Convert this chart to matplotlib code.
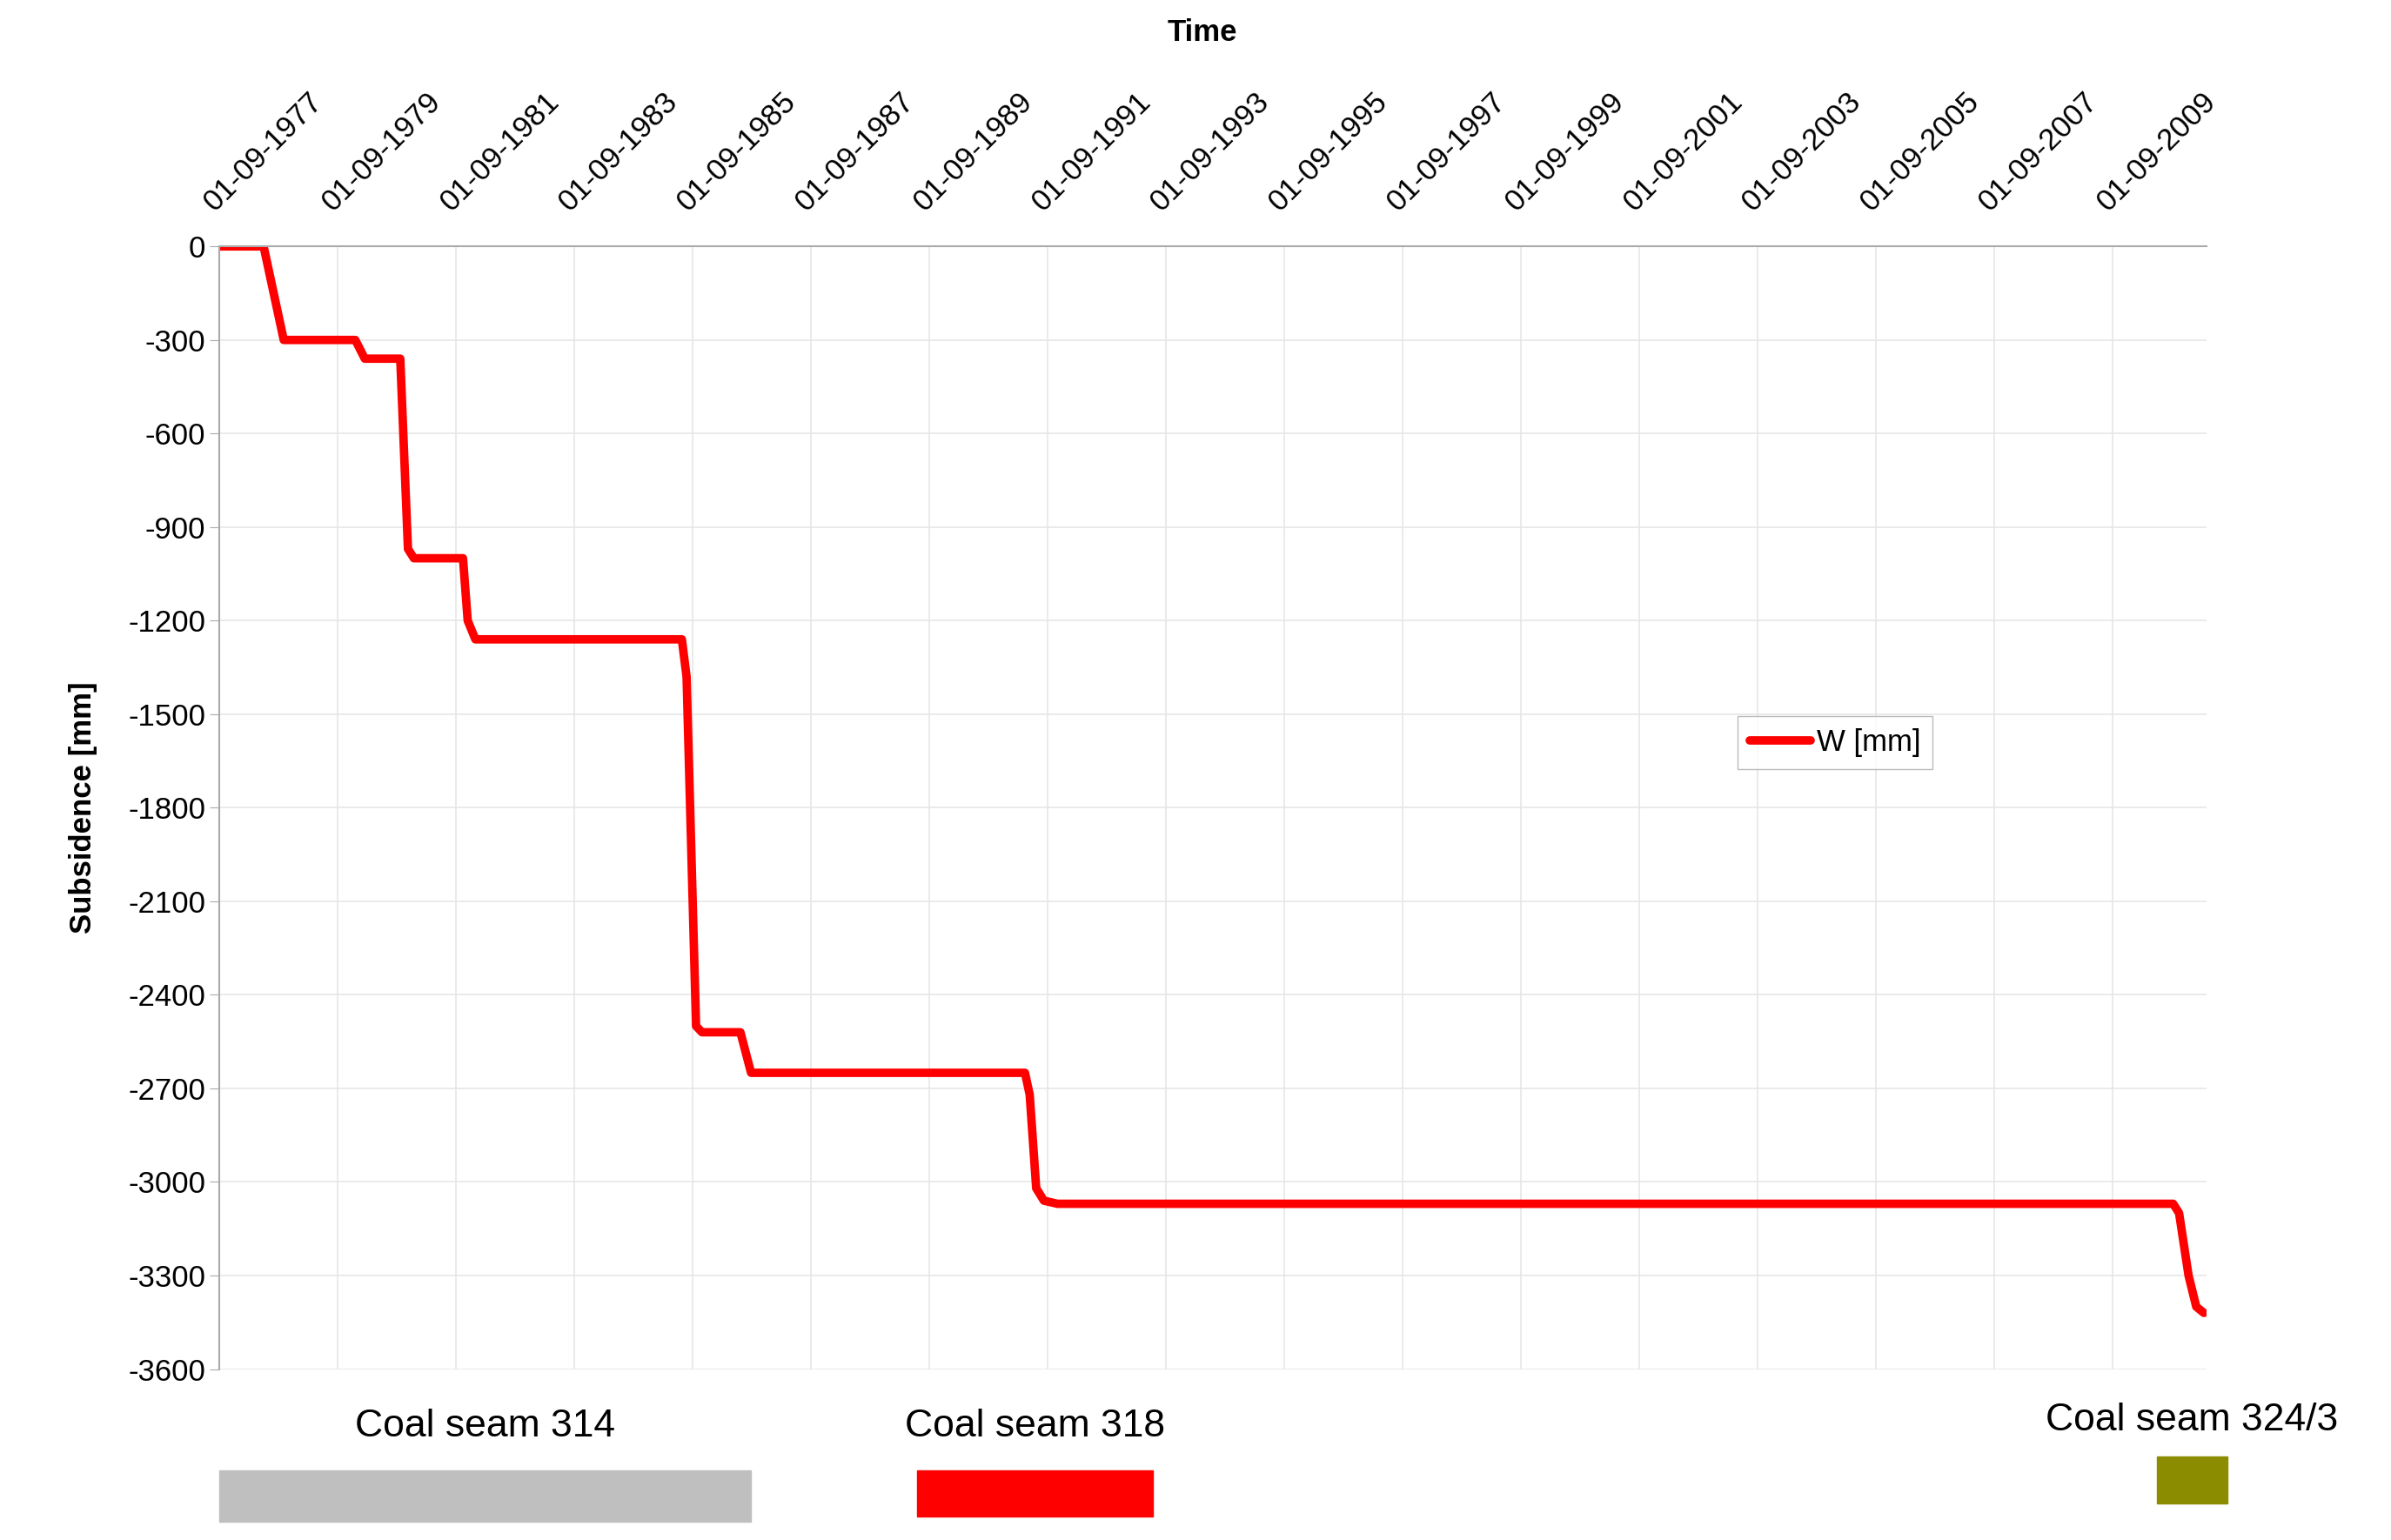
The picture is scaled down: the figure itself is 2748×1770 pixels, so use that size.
import matplotlib
matplotlib.use("Agg")
import matplotlib.pyplot as plt
from matplotlib.transforms import blended_transform_factory
from matplotlib.patches import Rectangle

plt.rcParams['font.family'] = ['Liberation Sans', 'DejaVu Sans']

# decimal years and subsidence W [mm]
years = [1977.67, 1978.42, 1978.76, 1979.97, 1980.13, 1980.73, 1980.86, 1980.96,
         1981.79, 1981.87, 1982.00, 1985.49, 1985.57, 1985.73, 1985.83, 1986.48,
         1986.66, 1991.29, 1991.37, 1991.48, 1991.61, 1991.84, 2010.70, 2010.80,
         2010.96, 2011.09, 2011.22]
subsidence = [0, 0, -300, -300, -360, -360, -970, -1000,
              -1000, -1200, -1260, -1260, -1380, -2500, -2520, -2520,
              -2650, -2650, -2720, -3020, -3060, -3070, -3070, -3100,
              -3300, -3400, -3420]
tick_years = list(range(1977, 2010, 2))
tick_labels = [f"01-09-{y}" for y in tick_years]
yticks = list(range(0, -3601, -300))

seams = ["Coal seam 314", "Coal seam 318", "Coal seam 324/3"]
seam_start = [1977.67, 1989.46, 2010.42]
seam_end = [1986.66, 1993.45, 2011.61]
seam_colors = ["#bfbfbf", "#ff0000", "#8c8c00"]

fig = plt.figure(figsize=(27.48, 17.70), dpi=100)
ax = fig.add_axes([0.0917, 0.111, 0.8313, 0.729])
ax.plot(years, subsidence, color="red", lw=7, label="W [mm]", solid_capstyle="round")
ax.set_xlim(1977.67, 2011.27)
ax.set_ylim(-3600, 0)
ax.set_yticks(yticks)
ax.set_yticklabels([str(v) for v in yticks], fontsize=25)
ax.set_xticks([y + 0.67 for y in tick_years])
ax.xaxis.tick_top()
ax.set_xticklabels(tick_labels, rotation=45, ha="left", va="bottom", fontsize=25,
                   rotation_mode="anchor")
ax.tick_params(axis="x", length=0, pad=25)
ax.tick_params(axis="y", length=8, color="#aaaaaa")
ax.grid(True, color="#e6e6e6", lw=1.2)
for s in ["right", "bottom"]:
    ax.spines[s].set_visible(False)
for s in ["left", "top"]:
    ax.spines[s].set_color("#aaaaaa")
    ax.spines[s].set_linewidth(1.5)
ax.set_ylabel("Subsidence [mm]", fontsize=25, fontweight="bold", labelpad=25)
fig.text(0.503, 0.988, "Time", fontsize=25, fontweight="bold", ha="center", va="top")
leg = ax.legend(loc="center", bbox_to_anchor=(0.813, 0.558), fontsize=25,
                fancybox=False, edgecolor="#aaaaaa", handlelength=2, handletextpad=0.2)

tr = blended_transform_factory(ax.transData, fig.transFigure)
ys = [(0.012, 0.045), (0.015, 0.045), (0.024, 0.054)]
texty = [0.062, 0.062, 0.066]
for name, a, b, c, (y0, y1), ty in zip(seams, seam_start, seam_end, seam_colors, ys, texty):
    fig.patches.append(Rectangle((a, y0), b - a, y1 - y0, transform=tr, color=c,
                                 clip_on=False))
    fig.text((a + b) / 2, ty, name, transform=tr, fontsize=32, ha="center", va="bottom")

fig.savefig("out.png", dpi=100)
